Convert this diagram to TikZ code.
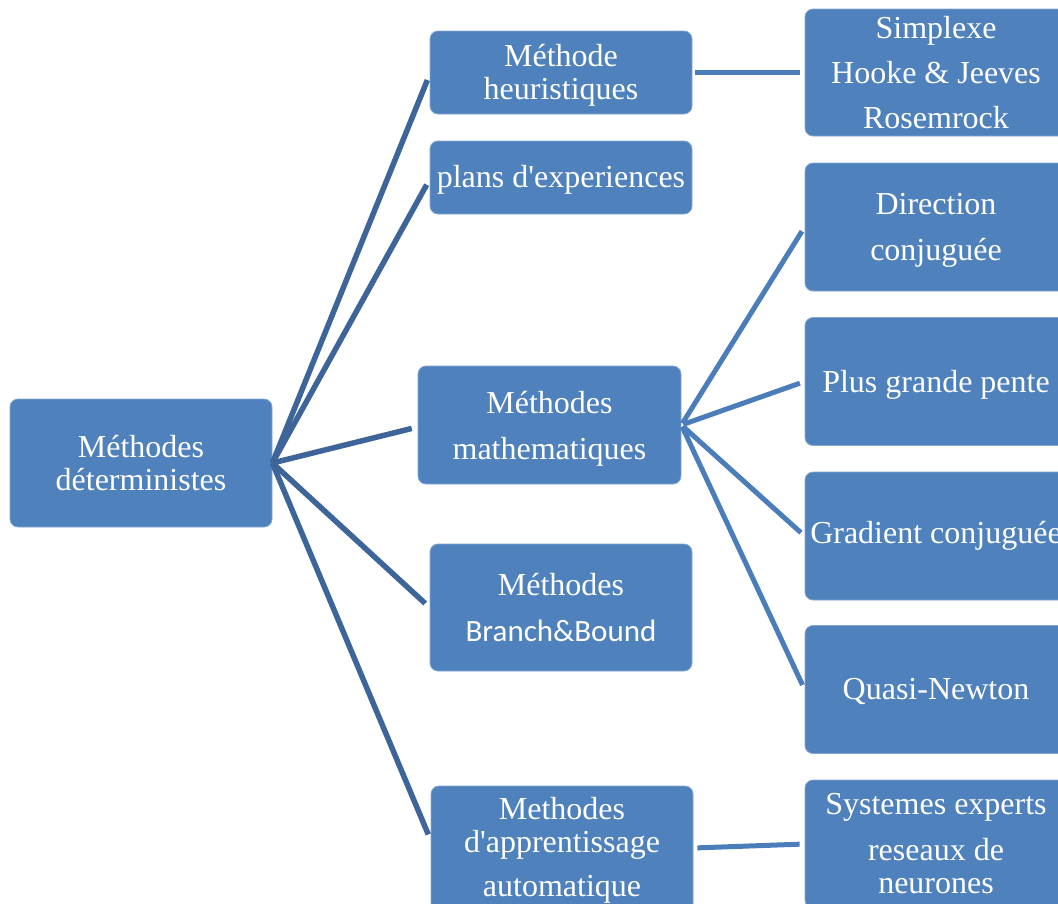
\documentclass[tikz,border=0pt]{standalone}
\usepackage{fontspec}
\setmainfont{Liberation Serif}
\newfontfamily\carlito{Carlito}
\usepackage{tikz}
\usetikzlibrary{calc}
\definecolor{boxblue}{HTML}{4F81BD}
\definecolor{linkdark}{HTML}{3E6599}
\definecolor{linkblue}{HTML}{4A7DBA}

\begin{document}
\begin{tikzpicture}[x=1pt,y=-1pt,
	box/.style={fill=boxblue,draw=boxblue!70!white,line width=0.8pt,rounded corners=8pt,text=white,align=center,inner sep=0pt,minimum width=262pt,minimum height=128pt,font=\fontsize{32}{33}\selectfont},
	loose/.style={font=\fontsize{32}{46}\selectfont},
	rootlink/.style={draw=linkdark,line width=5.5pt,shorten >=6pt},
	sublink/.style={draw=linkblue,line width=5pt,shorten <=2pt,shorten >=5pt}]
					\useasboundingbox (0,0) rectangle (1058,903);
					\clip (0,0) rectangle (1058,903);
					%LEFT AND MIDDLE BOXES
					\node[box] (determ) at (141,463) {Méthodes\\déterministes};
					\node[box,text depth=2pt,minimum height=83pt] (heur) at (561,72.5) {Méthode\\heuristiques};
					\node[box,text depth=3pt,minimum height=73pt] (plans) at (561,177.5) {plans d\textquotesingle experiences};
					\node[box,loose,text depth=-1pt,minimum width=263pt,minimum height=118pt] (math) at (549.5,425) {Méthodes\\mathematiques};
					\node[box,loose,minimum height=127pt] (branch) at (561,607.5) {Méthodes\\{\carlito\fontsize{31}{46}\selectfont Branch\&Bound}};
					\node[box] (appr) at (562,850) {Methodes\\d\textquotesingle apprentissage\\[11pt]automatique};
					%RIGHT COLUMN
					\node[box,font=\fontsize{32}{45}\selectfont,minimum height=127pt] (simplexe) at (936,72.5) {Simplexe\\Hooke \& Jeeves\\Rosemrock};
					\node[box,loose,text depth=-1pt] (direction) at (936,227) {Direction\\conjuguée};
					\node[box,text depth=1pt] (pente) at (936,381.5) {Plus grande pente};
					\node[box] (gradient) at (936,536) {Gradient conjuguée};
					\node[box,text depth=1pt] (quasi) at (936,689.5) {Quasi-Newton};
					\node[box,loose] (experts) at (936,844) {Systemes experts\\reseaux de\\[-13pt]neurones};
					%LINKS
					\draw[rootlink] (determ.east) -- ([yshift=-2pt]heur.west);
					\draw[rootlink] (determ.east) -- ([yshift=-2pt]plans.west);
					\draw[rootlink] (determ.east) -- ([yshift=-2pt]math.west);
					\draw[rootlink] (determ.east) -- (branch.west);
					\draw[rootlink] (determ.east) -- ([yshift=10pt]appr.west);
					\draw[sublink] (math.east) -- (direction.west);
					\draw[sublink] (math.east) -- (pente.west);
					\draw[sublink] (math.east) -- (gradient.west);
					\draw[sublink] (math.east) -- (quasi.west);
					\draw[sublink,shorten <=3pt] (heur.east) -- (simplexe.west);
					\draw[sublink,shorten <=4pt] ([yshift=2pt]appr.east) -- (experts.west);
\end{tikzpicture}
\end{document}
